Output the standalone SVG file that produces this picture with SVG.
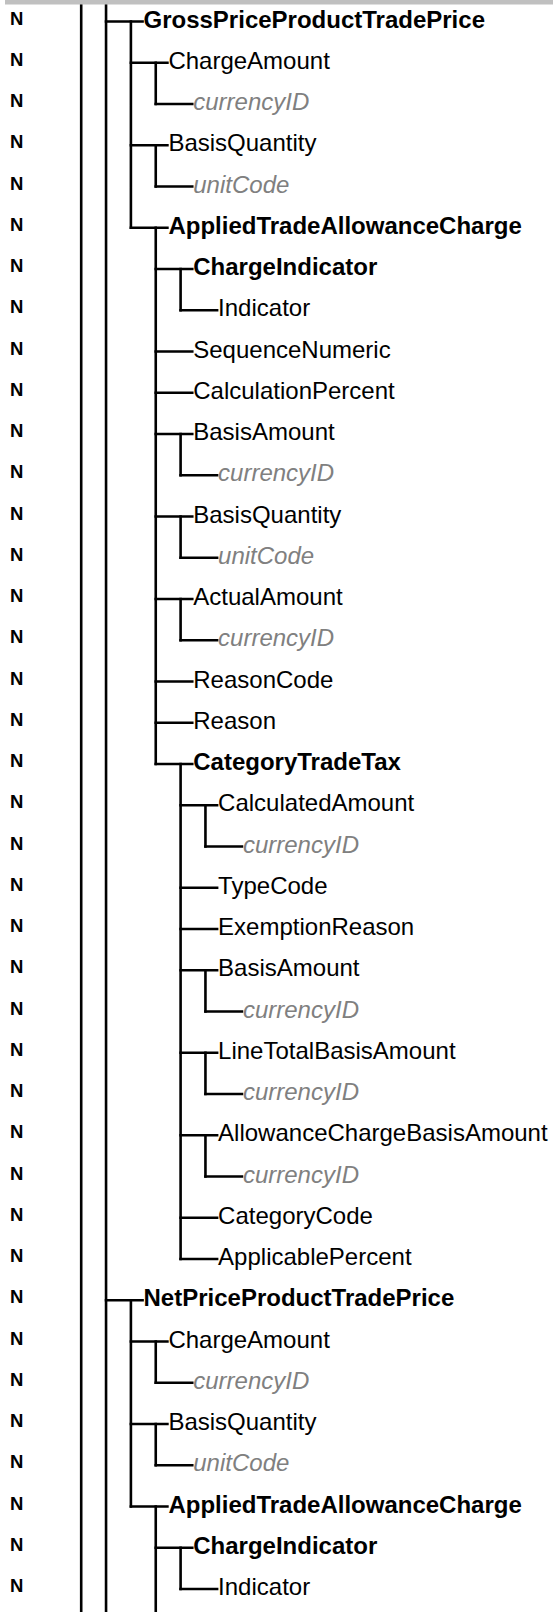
<svg xmlns="http://www.w3.org/2000/svg" width="553" height="1612" viewBox="0 0 553 1612">
  <style>
    .card { font: bold 18.5px "Liberation Sans", Arial, sans-serif; fill: #000; }
    .t { font: 24px "Liberation Sans", Arial, sans-serif; fill: #000; }
    .b { font-weight: bold; }
    .a { font-style: italic; fill: #808080; }
    .rail { stroke: #000; stroke-width: 2.6; fill: none; }
    .tree { stroke: #000; stroke-width: 2.6; fill: none; stroke-linecap: square; }
  </style>
  <rect width="553" height="1612" fill="#fff"/>

  <!-- tree connectors -->
  <g id="connectors">
    <!-- full-height ancestor rails -->
    <path class="rail" d="M81.2 0V1612M106.05 0V1612"/>
    <!-- child trunks -->
    <path class="tree" d="M130.9 21.5V227.75M130.9 1300.25V1506.5
      M155.75 62.75V104M155.75 145.25V186.5M155.75 227.75V764M155.75 1341.5V1382.75M155.75 1424V1465.25M155.75 1506.5V1614
      M180.6 269V310.25M180.6 434V475.25M180.6 516.5V557.75M180.6 599V640.25M180.6 764V1259M180.6 1547.75V1589
      M205.45 805.25V846.5M205.45 970.25V1011.5M205.45 1052.75V1094M205.45 1135.25V1176.5"/>
    <!-- branches to each element -->
    <path class="tree" d="M106.05 21.5h36.5M130.9 62.75h36.5M155.75 104h36.5M130.9 145.25h36.5M155.75 186.5h36.5
      M130.9 227.75h36.5M155.75 269h36.5M180.6 310.25h36.5M155.75 351.5h36.5M155.75 392.75h36.5
      M155.75 434h36.5M180.6 475.25h36.5M155.75 516.5h36.5M180.6 557.75h36.5M155.75 599h36.5
      M180.6 640.25h36.5M155.75 681.5h36.5M155.75 722.75h36.5M155.75 764h36.5M180.6 805.25h36.5
      M205.45 846.5h36.5M180.6 887.75h36.5M180.6 929h36.5M180.6 970.25h36.5M205.45 1011.5h36.5
      M180.6 1052.75h36.5M205.45 1094h36.5M180.6 1135.25h36.5M205.45 1176.5h36.5M180.6 1217.75h36.5
      M180.6 1259h36.5M106.05 1300.25h36.5M130.9 1341.5h36.5M155.75 1382.75h36.5M130.9 1424h36.5
      M155.75 1465.25h36.5M130.9 1506.5h36.5M155.75 1547.75h36.5M180.6 1589h36.5"/>
  </g>

  <!-- header border -->
  <rect x="5" y="0" width="548" height="4.5" fill="#c0c0c0"/>

  <!-- elements -->
  <g id="n01"><text class="card" x="10" y="24.5">N</text><text class="t b" x="143.5" y="27.5">GrossPriceProductTradePrice</text></g>
  <g id="n02"><text class="card" x="10" y="65.75">N</text><text class="t" x="168.4" y="68.75">ChargeAmount</text></g>
  <g id="n03"><text class="card" x="10" y="107">N</text><text class="t a" x="193.25" y="110">currencyID</text></g>
  <g id="n04"><text class="card" x="10" y="148.25">N</text><text class="t" x="168.4" y="151.25">BasisQuantity</text></g>
  <g id="n05"><text class="card" x="10" y="189.5">N</text><text class="t a" x="193.25" y="192.5">unitCode</text></g>
  <g id="n06"><text class="card" x="10" y="230.75">N</text><text class="t b" x="168.4" y="233.75">AppliedTradeAllowanceCharge</text></g>
  <g id="n07"><text class="card" x="10" y="272">N</text><text class="t b" x="193.25" y="275">ChargeIndicator</text></g>
  <g id="n08"><text class="card" x="10" y="313.25">N</text><text class="t" x="218.1" y="316.25">Indicator</text></g>
  <g id="n09"><text class="card" x="10" y="354.5">N</text><text class="t" x="193.25" y="357.5">SequenceNumeric</text></g>
  <g id="n10"><text class="card" x="10" y="395.75">N</text><text class="t" x="193.25" y="398.75">CalculationPercent</text></g>
  <g id="n11"><text class="card" x="10" y="437">N</text><text class="t" x="193.25" y="440">BasisAmount</text></g>
  <g id="n12"><text class="card" x="10" y="478.25">N</text><text class="t a" x="218.1" y="481.25">currencyID</text></g>
  <g id="n13"><text class="card" x="10" y="519.5">N</text><text class="t" x="193.25" y="522.5">BasisQuantity</text></g>
  <g id="n14"><text class="card" x="10" y="560.75">N</text><text class="t a" x="218.1" y="563.75">unitCode</text></g>
  <g id="n15"><text class="card" x="10" y="602">N</text><text class="t" x="193.25" y="605">ActualAmount</text></g>
  <g id="n16"><text class="card" x="10" y="643.25">N</text><text class="t a" x="218.1" y="646.25">currencyID</text></g>
  <g id="n17"><text class="card" x="10" y="684.5">N</text><text class="t" x="193.25" y="687.5">ReasonCode</text></g>
  <g id="n18"><text class="card" x="10" y="725.75">N</text><text class="t" x="193.25" y="728.75">Reason</text></g>
  <g id="n19"><text class="card" x="10" y="767">N</text><text class="t b" x="193.25" y="770">CategoryTradeTax</text></g>
  <g id="n20"><text class="card" x="10" y="808.25">N</text><text class="t" x="218.1" y="811.25">CalculatedAmount</text></g>
  <g id="n21"><text class="card" x="10" y="849.5">N</text><text class="t a" x="242.95" y="852.5">currencyID</text></g>
  <g id="n22"><text class="card" x="10" y="890.75">N</text><text class="t" x="218.1" y="893.75">TypeCode</text></g>
  <g id="n23"><text class="card" x="10" y="932">N</text><text class="t" x="218.1" y="935">ExemptionReason</text></g>
  <g id="n24"><text class="card" x="10" y="973.25">N</text><text class="t" x="218.1" y="976.25">BasisAmount</text></g>
  <g id="n25"><text class="card" x="10" y="1014.5">N</text><text class="t a" x="242.95" y="1017.5">currencyID</text></g>
  <g id="n26"><text class="card" x="10" y="1055.75">N</text><text class="t" x="218.1" y="1058.75">LineTotalBasisAmount</text></g>
  <g id="n27"><text class="card" x="10" y="1097">N</text><text class="t a" x="242.95" y="1100">currencyID</text></g>
  <g id="n28"><text class="card" x="10" y="1138.25">N</text><text class="t" x="218.1" y="1141.25">AllowanceChargeBasisAmount</text></g>
  <g id="n29"><text class="card" x="10" y="1179.5">N</text><text class="t a" x="242.95" y="1182.5">currencyID</text></g>
  <g id="n30"><text class="card" x="10" y="1220.75">N</text><text class="t" x="218.1" y="1223.75">CategoryCode</text></g>
  <g id="n31"><text class="card" x="10" y="1262">N</text><text class="t" x="218.1" y="1265">ApplicablePercent</text></g>
  <g id="n32"><text class="card" x="10" y="1303.25">N</text><text class="t b" x="143.5" y="1306.25">NetPriceProductTradePrice</text></g>
  <g id="n33"><text class="card" x="10" y="1344.5">N</text><text class="t" x="168.4" y="1347.5">ChargeAmount</text></g>
  <g id="n34"><text class="card" x="10" y="1385.75">N</text><text class="t a" x="193.25" y="1388.75">currencyID</text></g>
  <g id="n35"><text class="card" x="10" y="1427">N</text><text class="t" x="168.4" y="1430">BasisQuantity</text></g>
  <g id="n36"><text class="card" x="10" y="1468.25">N</text><text class="t a" x="193.25" y="1471.25">unitCode</text></g>
  <g id="n37"><text class="card" x="10" y="1509.5">N</text><text class="t b" x="168.4" y="1512.5">AppliedTradeAllowanceCharge</text></g>
  <g id="n38"><text class="card" x="10" y="1550.75">N</text><text class="t b" x="193.25" y="1553.75">ChargeIndicator</text></g>
  <g id="n39"><text class="card" x="10" y="1592">N</text><text class="t" x="218.1" y="1595">Indicator</text></g>
</svg>
